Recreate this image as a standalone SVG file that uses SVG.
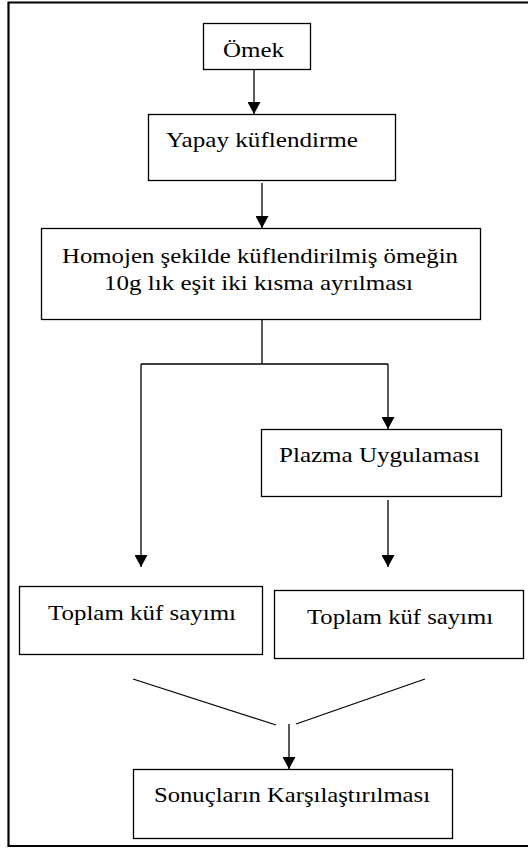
<svg xmlns="http://www.w3.org/2000/svg" width="528" height="848" viewBox="0 0 528 848">
<style>
.box{fill:#fff;stroke:#000;stroke-width:1.3}
.t{font-family:"Liberation Serif","Times New Roman",serif;font-size:22px;fill:#000}
.c{fill:none;stroke:#000;stroke-width:1.3}
</style>
<defs>
<marker id="ah" viewBox="0 0 12 13" refX="12" refY="6.5" markerWidth="12" markerHeight="13" markerUnits="userSpaceOnUse" orient="auto">
<path d="M0,0 L12,6.5 L0,13 Z" fill="#000"/>
</marker>
</defs>
<rect width="528" height="848" fill="#fff"/>
<path d="M528,2.5 H8.5 V846 H528" fill="none" stroke="#000" stroke-width="2.2"/>
<g id="connectors">
<line class="c" x1="254" y1="69" x2="254" y2="114" marker-end="url(#ah)"/>
<line class="c" x1="262" y1="183" x2="262" y2="228" marker-end="url(#ah)"/>
<path class="c" d="M262,319 V364 M141,364 H388"/>
<line class="c" x1="388" y1="364" x2="388" y2="429" marker-end="url(#ah)"/>
<line class="c" x1="141" y1="364" x2="141" y2="567" marker-end="url(#ah)"/>
<line class="c" x1="388" y1="500" x2="388" y2="567" marker-end="url(#ah)"/>
<line class="c" x1="133" y1="679" x2="276" y2="725"/>
<line class="c" x1="425" y1="679" x2="296" y2="724"/>
<line class="c" x1="289" y1="724" x2="289" y2="769" marker-end="url(#ah)"/>
</g>
<g id="n1"><rect class="box" x="203.5" y="23.5" width="107" height="46"/><text class="t" x="223" y="57" textLength="61" lengthAdjust="spacingAndGlyphs">Ömek</text></g>
<g id="n2"><rect class="box" x="148.5" y="114.5" width="247" height="66"/><text class="t" x="166" y="147" textLength="192" lengthAdjust="spacingAndGlyphs">Yapay küflendirme</text></g>
<g id="n3"><rect class="box" x="41.5" y="228.5" width="439" height="91"/><text class="t" x="62" y="263" textLength="396" lengthAdjust="spacingAndGlyphs">Homojen şekilde küflendirilmiş ömeğin</text><text class="t" x="104" y="290" textLength="309" lengthAdjust="spacingAndGlyphs">10g lık eşit iki kısma ayrılması</text></g>
<g id="n4"><rect class="box" x="261.5" y="429.5" width="240" height="67"/><text class="t" x="279" y="462" textLength="201" lengthAdjust="spacingAndGlyphs">Plazma Uygulaması</text></g>
<g id="n5"><rect class="box" x="19.5" y="586.5" width="243" height="68"/><text class="t" x="48" y="620" textLength="188" lengthAdjust="spacingAndGlyphs">Toplam küf sayımı</text></g>
<g id="n6"><rect class="box" x="274.5" y="590.5" width="249" height="68"/><text class="t" x="307" y="624" textLength="186" lengthAdjust="spacingAndGlyphs">Toplam küf sayımı</text></g>
<g id="n7"><rect class="box" x="133.5" y="769.5" width="319" height="69"/><text class="t" x="154" y="802" textLength="276" lengthAdjust="spacingAndGlyphs">Sonuçların Karşılaştırılması</text></g>
</svg>
